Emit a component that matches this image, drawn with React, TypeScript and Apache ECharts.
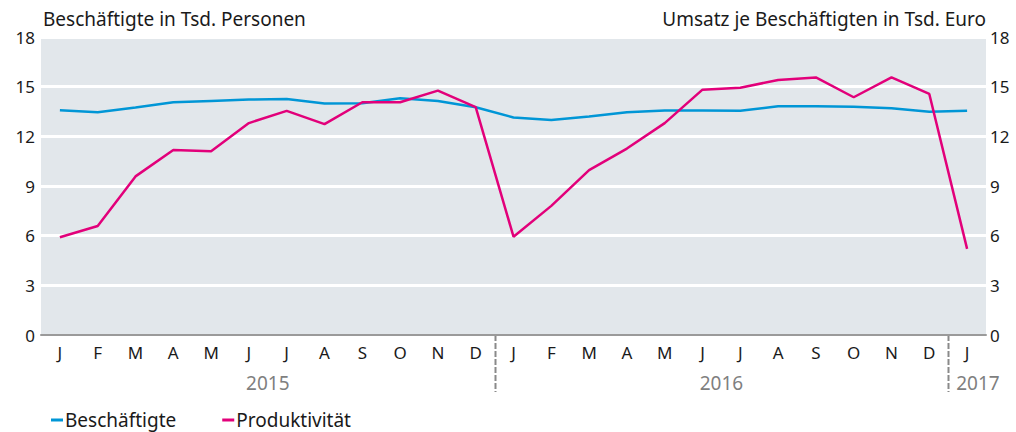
import React, { useEffect, useRef } from "react";
import * as echarts from "echarts";

const months = ["J","F","M","A","M","J","J","A","S","O","N","D","J","F","M","A","M","J","J","A","S","O","N","D","J"];
const years = ["2015", "2016", "2017"];
const yearStart = [0, 12, 24];
const yearEnd = [12, 24, 25];
const yTicks = [0, 3, 6, 9, 12, 15, 18];

const beschaeftigte = [13.58,13.46,13.74,14.06,14.14,14.22,14.26,13.98,14.0,14.3,14.14,13.76,13.14,12.98,13.2,13.46,13.56,13.56,13.54,13.82,13.82,13.78,13.7,13.48,13.54];
const produktivitaet = [5.9,6.58,9.58,11.18,11.1,12.8,13.54,12.74,14.06,14.06,14.76,13.76,5.94,7.8,9.96,11.26,12.8,14.82,14.94,15.4,15.56,14.36,15.56,14.56,5.2];

const FONT = "'Source Sans Pro', 'Noto Sans', sans-serif";
const BLUE = "#0096d6";
const PINK = "#e2007a";

export default function App() {
  const ref = useRef<HTMLDivElement>(null);
  useEffect(() => {
    document.body.style.margin = "0";
    const chart = echarts.init(ref.current!, null, { renderer: "svg" });
    const gridLeft = 41, gridRight = 30, gridTop = 37, gridBottom = 97;
    chart.setOption({
      animation: false,
      textStyle: { fontFamily: FONT },
      grid: { left: gridLeft, right: gridRight, top: gridTop, bottom: gridBottom, show: true, backgroundColor: "#e2e7eb", borderWidth: 0 },
      legend: {
        left: 46, top: 404,
        icon: "rect", itemWidth: 12, itemHeight: 3, itemGap: 46,
        textStyle: { fontSize: 19, lineHeight: 22, color: "#1a1a1a", fontFamily: FONT, padding: [0, 0, 0, -3] },
        data: ["Beschäftigte", "Produktivität"],
      },
      xAxis: {
        type: "category", data: months, boundaryGap: true,
        axisLine: { show: true, lineStyle: { color: "#9a9a9a", width: 2 } },
        axisTick: { show: false },
        axisLabel: { color: "#1a1a1a", fontSize: 17, margin: 9, interval: 0 },
      },
      yAxis: [
        {
          type: "value", min: yTicks[0], max: yTicks[yTicks.length - 1], interval: 3, position: "left",
          name: "Beschäftigte in Tsd. Personen", nameLocation: "end", nameGap: 9,
          nameTextStyle: { align: "left", fontSize: 19, color: "#1a1a1a", padding: [0, 0, 0, 2] },
          axisLine: { show: false }, axisTick: { show: false },
          axisLabel: { color: "#1a1a1a", fontSize: 17, margin: 6 },
          splitLine: { show: true, lineStyle: { color: "#ffffff", width: 3 } },
        },
        {
          type: "value", min: yTicks[0], max: yTicks[yTicks.length - 1], interval: 3, position: "right",
          name: "Umsatz je Beschäftigten in Tsd. Euro", nameLocation: "end", nameGap: 9,
          nameTextStyle: { align: "right", fontSize: 19, color: "#1a1a1a", padding: [0, 0, 0, 0] },
          axisLine: { show: false }, axisTick: { show: false },
          axisLabel: { color: "#1a1a1a", fontSize: 17, margin: 4 },
          splitLine: { show: false },
        },
      ],
      series: [
        { name: "Beschäftigte", type: "line", yAxisIndex: 0, data: beschaeftigte, symbol: "none", lineStyle: { color: BLUE, width: 2.5 }, itemStyle: { color: BLUE } },
        { name: "Produktivität", type: "line", yAxisIndex: 1, data: produktivitaet, symbol: "none", lineStyle: { color: PINK, width: 2.5 }, itemStyle: { color: PINK } },
      ],
    });

    const c0 = chart.convertToPixel({ xAxisIndex: 0 }, 0) as number;
    const c1 = chart.convertToPixel({ xAxisIndex: 0 }, 1) as number;
    const band = c1 - c0;
    const yBase = chart.convertToPixel({ yAxisIndex: 0 }, 0) as number;
    const edge = (i: number) => c0 - band / 2 + i * band;
    const graphics: any[] = [];
    for (let k = 1; k < years.length; k++) {
      const x = Math.round(edge(yearStart[k])) + 0.5;
      graphics.push({
        type: "line", shape: { x1: x, y1: yBase, x2: x, y2: yBase + 57 },
        style: { stroke: "#8a8a8a", lineWidth: 2, lineDash: [6, 2] },
      });
    }
    years.forEach((yr, k) => {
      const a = edge(yearStart[k]);
      const b = edge(yearEnd[k]);
      const last = k === years.length - 1;
      graphics.push({
        type: "text",
        x: last ? a + 8 : (a + b) / 2,
        y: yBase + 48,
        style: { text: yr, font: `19px ${FONT}`, fill: "#7f7f7f", align: last ? "left" : "center", verticalAlign: "middle" },
      });
    });
    chart.setOption({ graphic: graphics });
    return () => chart.dispose();
  }, []);
  return <div ref={ref} style={{ width: 1016, height: 432 }} />;
}
